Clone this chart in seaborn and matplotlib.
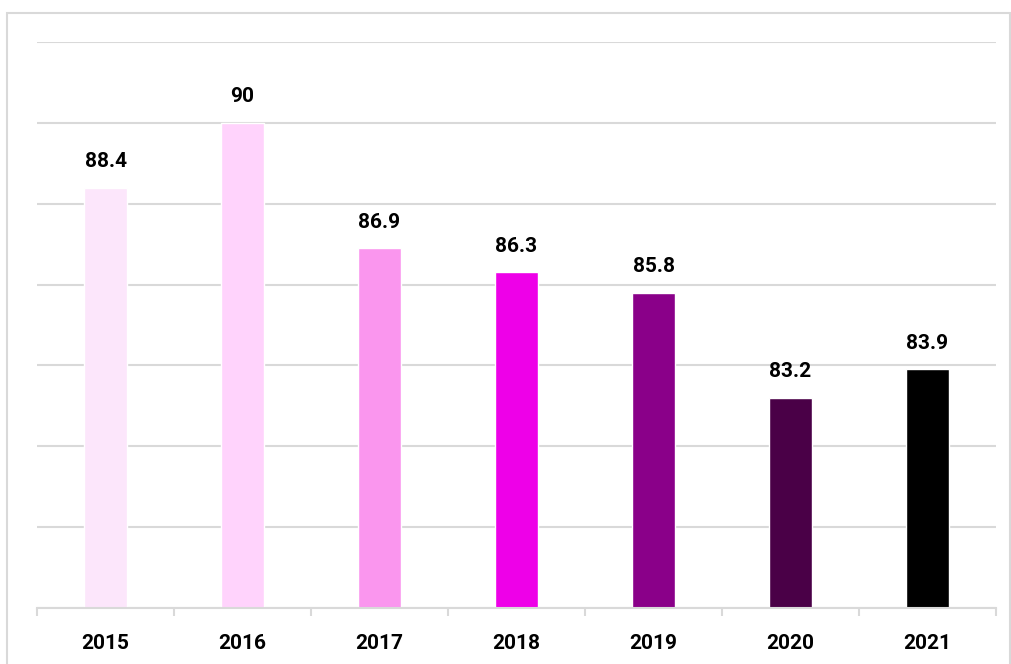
import matplotlib
matplotlib.use("Agg")
import matplotlib.pyplot as plt
import seaborn as sns
import pandas as pd
from matplotlib.patches import Rectangle

years = ["2015", "2016", "2017", "2018", "2019", "2020", "2021"]
values = [88.4, 90, 86.9, 86.3, 85.8, 83.2, 83.9]
colors = ["#FCE6FB", "#FFD3FC", "#FA96EE", "#EE00E8", "#8A0089", "#4A0047", "#000000"]

sns.set_theme(style="white")
plt.rcParams["font.family"] = ["Roboto", "DejaVu Sans"]

W, H = 1011, 664
fig = plt.figure(figsize=(W / 100, H / 100), dpi=100)
left, right, bottom, top = 37, 996, 608, 42
ax = fig.add_axes([left / W, (H - bottom) / H, (right - left) / W, (bottom - top) / H])

df = pd.DataFrame({"year": years, "value": values})
sns.barplot(data=df, x="year", y="value", hue="year", palette=colors,
            legend=False, width=0.315, ax=ax, saturation=1)

ax.set_ylim(78, 92)
ax.set_xlim(-0.5, len(years) - 0.5)
ax.set_yticks([78, 80, 82, 84, 86, 88, 90, 92])
ax.set_yticklabels([])
ax.yaxis.grid(True, color="#D9D9D9", linewidth=1.5)
ax.set_axisbelow(True)
ax.tick_params(axis="y", length=0)
ax.set_xticks(range(len(years)))
ax.set_xticklabels(years, fontsize=15, fontweight="bold", color="black")
ax.set_xticks([i - 0.5 for i in range(len(years) + 1)], minor=True)
ax.tick_params(axis="x", which="major", bottom=True, length=0, pad=19)
ax.tick_params(axis="x", which="minor", bottom=True, length=6, color="#D9D9D9", width=1.5)
ax.set_xlabel("")
ax.set_ylabel("")
for s in ["top", "right", "left"]:
    ax.spines[s].set_visible(False)
ax.spines["bottom"].set_color("#D9D9D9")
ax.spines["bottom"].set_linewidth(1.5)

for i, v in enumerate(values):
    ax.annotate(f"{v:g}", (i, v), xytext=(0, 12), textcoords="offset points",
                ha="center", va="bottom", fontsize=15, fontweight="bold", color="black")

fig.patches.append(Rectangle((7 / W, -0.01), (1010 - 7) / W, (H - 13) / H + 0.01,
                             transform=fig.transFigure, fill=False,
                             edgecolor="#D9D9D9", linewidth=1.5))

fig.savefig("out.png", dpi=100)
